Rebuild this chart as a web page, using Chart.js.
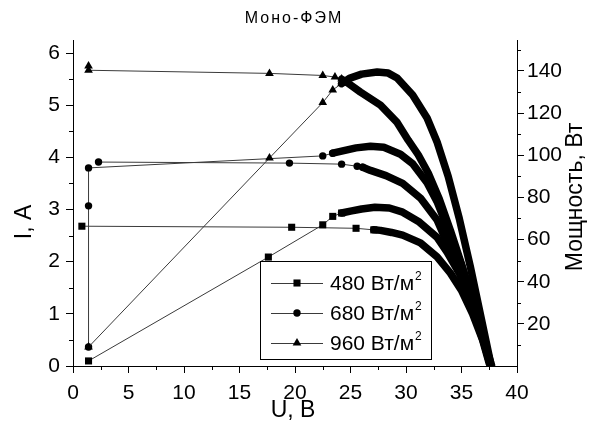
<!DOCTYPE html>
<html>
<head>
<meta charset="utf-8">
<script src="https://cdn.jsdelivr.net/npm/chart.js@4.4.0/dist/chart.umd.min.js"></script>
<style>
  html, body { margin: 0; padding: 0; background: #fff; }
  canvas { display: block; }
</style>
</head>
<body>
<canvas id="ivChart" width="598" height="432"></canvas>
<script>
// Моно-ФЭМ: ВАХ (левая ось, А) и мощность (правая ось, Вт) при трёх освещённостях
const legendLabels = ['480 Вт/м', '680 Вт/м', '960 Вт/м'];

// 480 Вт/м2
const u480I = [0.8, 19.7, 25.5, 27.1, 27.7, 28.7, 29.7, 31.3, 32.8, 34.0, 35.0, 36.0, 36.9, 37.5];
const i480 = [2.68, 2.66, 2.64, 2.61, 2.60, 2.56, 2.51, 2.36, 2.09, 1.78, 1.45, 1.00, 0.50, 0.05];
const u480P = [1.4, 17.6, 22.5, 23.4, 24.2, 25.0, 26.0, 27.2, 28.5, 29.7, 31.2, 32.8, 33.7, 34.8, 35.8, 36.8, 37.5];
const p480 = [2.4, 51.7, 67, 71, 72.6, 73.5, 74.5, 75.3, 75, 73, 68.3, 61, 54, 44, 32, 16, 2];

// 680 Вт/м2
const u680I = [2.3, 19.5, 24.2, 25.6, 26.1, 26.8, 28.2, 29.7, 31.3, 32.8, 34.0, 35.0, 36.0, 37.0, 37.6];
const i680 = [3.91, 3.89, 3.87, 3.83, 3.81, 3.75, 3.65, 3.50, 3.22, 2.80, 2.22, 1.70, 1.10, 0.45, 0.02];
const u680P = [1.4, 1.4, 1.4, 22.5, 23.4, 24.2, 25.5, 26.8, 28.0, 29.5, 30.6, 31.9, 32.8, 34.0, 35.0, 36.0, 37.0, 37.6];
const p680 = [9, 76, 94, 99.7, 101, 102, 103.5, 104.3, 103.8, 100.5, 96, 87, 78, 62, 48, 32, 14, 1];

// 960 Вт/м2
const u960I = [1.4, 1.4, 17.7, 22.5, 23.6, 24.2, 24.6, 25.9, 27.7, 29.2, 30.2, 31.1, 32.0, 33.0, 34.0, 35.0, 36.0, 37.0, 37.7];
const i960 = [5.75, 5.67, 5.61, 5.57, 5.54, 5.50, 5.45, 5.25, 5.00, 4.67, 4.33, 4.05, 3.70, 3.20, 2.60, 1.95, 1.25, 0.50, 0.02];
const u960P = [1.4, 17.7, 22.5, 23.4, 24.2, 24.9, 26.0, 27.4, 28.4, 29.2, 30.6, 31.9, 32.8, 33.8, 34.8, 35.8, 36.8, 37.6];
const p960 = [9, 98.7, 125, 131, 134, 136.5, 138.5, 139.5, 139, 136.7, 128.6, 117.7, 106.3, 90, 70, 47, 22, 2];

// сколько первых точек отмечены маркерами (дальше плотная "лента")
const markedCount = { i480: 4, p480: 5, i680: 5, p680: 5, i960: 6, p960: 5 };

const FONT = '"Liberation Sans", Arial, sans-serif';
const markerRadius = { rect: 5, circle: 3.7, triangle: 5 };
const markerStyles = ['rect', 'circle', 'triangle'];

function pts(us, vs) {
    return us.map((u, k) => ({ x: u, y: vs[k] }));
}

function curve(us, vs, axis, style, marked) {
    return {
        data: pts(us, vs),
        yAxisID: axis,
        showLine: true,
        borderColor: '#000',
        borderWidth: 1,
        borderJoinStyle: 'round',
        borderCapStyle: 'round',
        tension: 0,
        pointStyle: style,
        pointRadius: c => c.dataIndex < marked ? markerRadius[style] : 0,
        pointBackgroundColor: '#000',
        pointBorderColor: '#000',
        pointBorderWidth: 0,
        segment: {
            borderWidth: c => c.p0DataIndex >= marked - 1 ? 7.5 : 1,
            borderColor: c => c.p0DataIndex >= marked - 1 ? '#000' : '#3a3a3a'
        }
    };
}

// подписи, малые риски, легенда
const decorations = {
    id: 'decorations',
    afterDraw(chart) {
        const { ctx, chartArea: a, scales } = chart;
        ctx.save();

        // малые риски
        ctx.strokeStyle = '#000';
        ctx.lineWidth = 1;
        ctx.beginPath();
        for (let v = 2.5; v < 40; v += 5) {
            const px = Math.round(scales.x.getPixelForValue(v)) + 0.5;
            ctx.moveTo(px, a.bottom);
            ctx.lineTo(px, a.bottom + 4);
        }
        for (let v = 0.5; v < scales.y.max; v += 1) {
            const py = Math.round(scales.y.getPixelForValue(v)) + 0.5;
            ctx.moveTo(a.left, py);
            ctx.lineTo(a.left - 4, py);
        }
        for (let v = 10; v < scales.y1.max; v += 20) {
            const py = Math.round(scales.y1.getPixelForValue(v)) + 0.5;
            ctx.moveTo(a.right, py);
            ctx.lineTo(a.right + 4, py);
        }
        ctx.stroke();

        ctx.fillStyle = '#000';

        // заголовок
        ctx.font = '16px ' + FONT;
        ctx.letterSpacing = '2px';
        ctx.textAlign = 'center';
        ctx.textBaseline = 'middle';
        ctx.fillText('Моно-ФЭМ', 294, 19);
        ctx.letterSpacing = '0px';

        // подписи осей
        ctx.font = '23px ' + FONT;
        ctx.fillText('U, В', 293, 411);

        ctx.save();
        ctx.translate(25, 222);
        ctx.rotate(-Math.PI / 2);
        ctx.fillText('I, А', 0, 0);
        ctx.restore();

        ctx.save();
        ctx.translate(576, 197);
        ctx.rotate(-Math.PI / 2);
        ctx.fillText('Мощность, Вт', 0, 0);
        ctx.restore();

        // легенда
        const bx = 260.5, by = 261.5, bw = 171, bh = 98;
        ctx.fillStyle = '#fff';
        ctx.fillRect(bx, by, bw, bh);
        ctx.strokeStyle = '#000';
        ctx.strokeRect(bx, by, bw, bh);

        legendLabels.forEach((label, k) => {
            const ry = 283 + k * 30;
            ctx.strokeStyle = '#3a3a3a';
            ctx.beginPath();
            ctx.moveTo(271, ry + 0.5);
            ctx.lineTo(323, ry + 0.5);
            ctx.stroke();
            ctx.fillStyle = '#000';
            ctx.strokeStyle = '#000';
            Chart.helpers.drawPoint(ctx, {
                pointStyle: markerStyles[k],
                radius: markerRadius[markerStyles[k]],
                rotation: 0,
                borderWidth: 0
            }, 297, ry);

            ctx.font = '21px ' + FONT;
            ctx.textAlign = 'left';
            ctx.textBaseline = 'middle';
            ctx.fillText(label, 330, ry + 1);
            const w = ctx.measureText(label).width;
            ctx.font = '12px ' + FONT;
            ctx.fillText('2', 330 + w + 1, ry - 6);
        });

        ctx.restore();
    }
};

const tickFont = { family: FONT, size: 21 };
const ticksGrid = {
    drawOnChartArea: false,
    drawTicks: true,
    tickLength: 7,
    tickColor: '#000'
};

const canvas = document.getElementById('ivChart');
// первый набор рисуется поверх, поэтому 960 идёт первым
canvas._chartInstance = new Chart(canvas.getContext('2d'), {
    type: 'scatter',
    data: {
        datasets: [
            curve(u960P, p960, 'y1', 'triangle', markedCount.p960),
            curve(u960I, i960, 'y', 'triangle', markedCount.i960),
            curve(u680P, p680, 'y1', 'circle', markedCount.p680),
            curve(u680I, i680, 'y', 'circle', markedCount.i680),
            curve(u480P, p480, 'y1', 'rect', markedCount.p480),
            curve(u480I, i480, 'y', 'rect', markedCount.i480)
        ]
    },
    options: {
        responsive: false,
        animation: false,
        events: [],
        layout: { padding: { top: 40, left: 0, right: 0, bottom: 0 } },
        plugins: {
            legend: { display: false },
            title: { display: false },
            tooltip: { enabled: false }
        },
        scales: {
            x: {
                type: 'linear',
                min: 0,
                max: 40,
                ticks: { stepSize: 5, color: '#000', font: tickFont, padding: 8, maxRotation: 0, includeBounds: false },
                grid: ticksGrid,
                border: { display: true, color: '#000', width: 1 },
                afterFit: s => { s.height = 66; }
            },
            y: {
                position: 'left',
                min: 0,
                max: 6.25,
                ticks: { stepSize: 1, color: '#000', font: tickFont, padding: 6, includeBounds: false },
                grid: ticksGrid,
                border: { display: true, color: '#000', width: 1 },
                afterFit: s => { s.width = 73; }
            },
            y1: {
                position: 'right',
                min: 0,
                max: 154.7,
                ticks: {
                    stepSize: 20, color: '#000', font: tickFont, padding: 3, includeBounds: false,
                    callback: v => v === 0 ? '' : v
                },
                grid: Object.assign({}, ticksGrid, {
                    tickColor: c => c.tick && c.tick.value === 0 ? 'rgba(0,0,0,0)' : '#000'
                }),
                border: { display: true, color: '#000', width: 1 },
                afterFit: s => { s.width = 81; }
            }
        }
    },
    plugins: [decorations]
});
</script>
</body>
</html>
